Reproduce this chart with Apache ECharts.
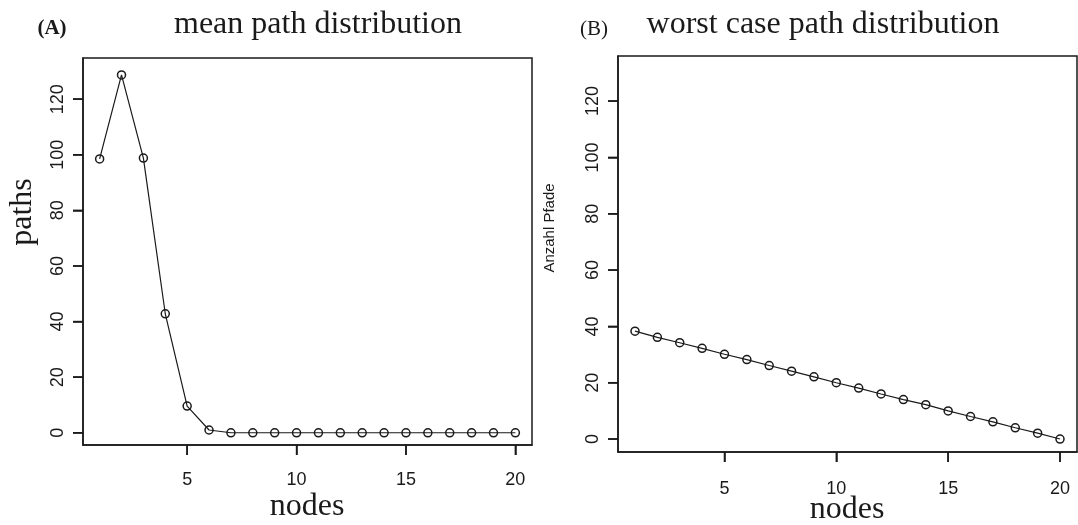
<!DOCTYPE html>
<html>
<head>
<meta charset="utf-8">
<script src="https://cdn.jsdelivr.net/npm/echarts@6/dist/echarts.min.js"></script>
<style>html,body{margin:0;padding:0;background:#fff;}#c{width:1078px;height:525px;}</style>
</head>
<body>
<div id="c"></div>
<script>
// ---- data ----
const nodes = [1,2,3,4,5,6,7,8,9,10,11,12,13,14,15,16,17,18,19,20];
const meanPaths = [98.5,128.7,98.8,42.8,9.6,1.0,0,0,0,0,0,0,0,0,0,0,0,0,0,0];
const worstPaths = [38.3,36.1,34.2,32.2,30.1,28.2,26.1,24.1,22.1,20.0,18.1,16.0,14.0,12.2,10.0,8.0,6.1,4.0,2.1,0];
const xTickValues = [5,10,15,20];
const yTickValues = [0,20,40,60,80,100,120];
const titles = ['mean path distribution','worst case path distribution'];
const panelTags = ['(A)','(B)'];
const xName = 'nodes';
const yNames = ['paths','Anzahl Pfade'];

const toPairs = (xs, ys) => xs.map((x, i) => [x, ys[i]]);

const sans = 'Liberation Sans, Arial, sans-serif';
const serif = 'Liberation Serif, Times New Roman, serif';
const ink = '#1a1a1a';
const xMin = 0.24, xMax = 20.76;
const yRanges = [[-4.4, 134.8], [-4.6, 136]];
const TICK = 10;

function xAxis(gi, margin) {
  return {
    type: 'value', gridIndex: gi, min: xMin, max: xMax,
    axisLine: {show: true, onZero: false, lineStyle: {color: ink, width: 1.5}},
    axisTick: {show: true, length: TICK, customValues: xTickValues, lineStyle: {color: ink, width: 1.5}},
    axisLabel: {customValues: xTickValues, fontFamily: sans, fontSize: 18, color: ink, margin: margin},
    splitLine: {show: false}
  };
}
function yAxis(gi) {
  return {
    type: 'value', gridIndex: gi, min: yRanges[gi][0], max: yRanges[gi][1],
    axisLine: {show: true, onZero: false, lineStyle: {color: ink, width: 1.5}},
    axisTick: {show: true, length: TICK, customValues: yTickValues, lineStyle: {color: ink, width: 1.5}},
    axisLabel: {customValues: yTickValues, rotate: 90, fontFamily: sans, fontSize: 18, color: ink, margin: 16},
    splitLine: {show: false}
  };
}
function lineSeries(gi, data) {
  return {
    type: 'line', xAxisIndex: gi, yAxisIndex: gi, data: data,
    symbol: 'circle', symbolSize: 8,
    lineStyle: {color: ink, width: 1.2},
    itemStyle: {color: 'rgba(0,0,0,0)', borderColor: ink, borderWidth: 1.5},
    emphasis: {disabled: true}, animation: false
  };
}
// outward tick marks placed through the axes' own scales
function xTickSeries(gi) {
  const yMin = yRanges[gi][0];
  return {
    type: 'custom', xAxisIndex: gi, yAxisIndex: gi, clip: false, silent: true, animation: false,
    data: xTickValues.map(v => [v, yMin]),
    renderItem: (params, api) => {
      const p = api.coord([api.value(0), api.value(1)]);
      return {type: 'line', shape: {x1: p[0], y1: p[1], x2: p[0], y2: p[1] + TICK}, style: {stroke: ink, lineWidth: 1.5}};
    }
  };
}
function yTickSeries(gi) {
  return {
    type: 'custom', xAxisIndex: gi, yAxisIndex: gi, clip: false, silent: true, animation: false,
    data: yTickValues.map(v => [xMin, v]),
    renderItem: (params, api) => {
      const p = api.coord([api.value(0), api.value(1)]);
      return {type: 'line', shape: {x1: p[0] - TICK, y1: p[1], x2: p[0], y2: p[1]}, style: {stroke: ink, lineWidth: 1.5}};
    }
  };
}

const chart = echarts.init(document.getElementById('c'), null, {renderer: 'canvas'});
chart.setOption({
  backgroundColor: '#fff',
  animation: false,
  grid: [
    {left: 83, top: 58, width: 449, height: 387, show: true, borderColor: ink, borderWidth: 1.5, outerBoundsMode: 'none'},
    {left: 618, top: 56, width: 459, height: 396, show: true, borderColor: ink, borderWidth: 1.5, outerBoundsMode: 'none'}
  ],
  xAxis: [xAxis(0, 26), xAxis(1, 28)],
  yAxis: [yAxis(0), yAxis(1)],
  series: [
    lineSeries(0, toPairs(nodes, meanPaths)), lineSeries(1, toPairs(nodes, worstPaths)),
    xTickSeries(0), yTickSeries(0), xTickSeries(1), yTickSeries(1)
  ],
  graphic: [
    {type: 'text', x: 318, y: 25, style: {text: titles[0], font: '32px ' + serif, fill: ink, textAlign: 'center', textVerticalAlign: 'middle'}},
    {type: 'text', x: 823, y: 25, style: {text: titles[1], font: '32px ' + serif, fill: ink, textAlign: 'center', textVerticalAlign: 'middle'}},
    {type: 'text', x: 52, y: 29, style: {text: panelTags[0], font: 'bold 21px ' + serif, fill: ink, textAlign: 'center', textVerticalAlign: 'middle'}},
    {type: 'text', x: 594, y: 29, style: {text: panelTags[1], font: '21px ' + serif, fill: ink, textAlign: 'center', textVerticalAlign: 'middle'}},
    {type: 'text', x: 23, y: 212, rotation: Math.PI / 2, style: {text: yNames[0], font: '32px ' + serif, fill: ink, textAlign: 'center', textVerticalAlign: 'middle'}},
    {type: 'text', x: 550, y: 228, rotation: Math.PI / 2, style: {text: yNames[1], font: '15px ' + sans, fill: ink, textAlign: 'center', textVerticalAlign: 'middle'}},
    {type: 'text', x: 307, y: 507, style: {text: xName, font: '32px ' + serif, fill: ink, textAlign: 'center', textVerticalAlign: 'middle'}},
    {type: 'text', x: 847, y: 510, style: {text: xName, font: '32px ' + serif, fill: ink, textAlign: 'center', textVerticalAlign: 'middle'}}
  ]
});
</script>
</body>
</html>
